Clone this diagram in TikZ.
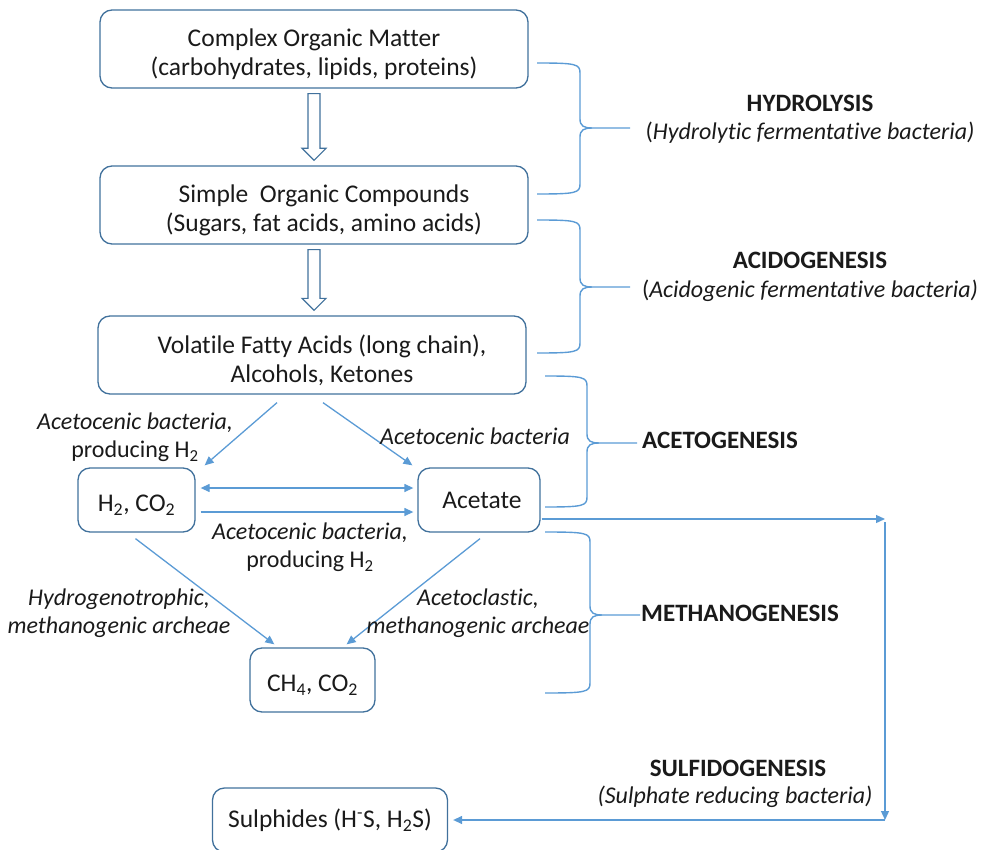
\documentclass[tikz,border=0pt]{standalone}
\usepackage{fontspec}
\setmainfont[Ligatures=NoCommon]{Carlito}
\usetikzlibrary{arrows.meta,calc}
\definecolor{boxline}{HTML}{41719C}
\definecolor{linkblue}{HTML}{5B9BD5}
\definecolor{ink}{HTML}{1A1A1A}

% invisible strut that lowers a box's text block
\newcommand\droptext[1]{\rule{0pt}{#1}}
% pushes a centred line a little to the right
\newcommand\nudge{\hspace*{20pt}}

% hollow block arrow between two stacked boxes
\newcommand\hollowlink[2]{%
  \draw[hollow] let \p1=(#1.south), \p2=(#2.north) in
    (\x1-6pt,\y1-5pt) -- (\x1-6pt,\y2+17pt) -- (\x1-12pt,\y2+17pt) -- (\x1,\y2+5pt)
    -- (\x1+12pt,\y2+17pt) -- (\x1+6pt,\y2+17pt) -- (\x1+6pt,\y1-5pt) -- cycle;}

% curly brace: left x, spine x, tip x, top y, middle y, bottom y
\newcommand\stagebrace[6]{%
  \draw[bracepath] (#1,#4) .. controls ({#2-4},#4) and (#2,{#4+1}) .. (#2,{#4+10})
    -- (#2,{#5-9}) .. controls (#2,{#5-2}) and ({#2+4},#5) .. ({#2+12},#5) -- (#3,#5);
  \draw[bracepath] ({#2+12},#5) .. controls ({#2+4},#5) and (#2,{#5+2}) .. (#2,{#5+9})
    -- (#2,{#6-10}) .. controls (#2,{#6-1}) and ({#2-4},#6) .. (#1,#6);}

\begin{document}
\begin{tikzpicture}[x=1pt,y=-1pt,
  every node/.style={text=ink, font=\fontsize{25.5}{29}\selectfont},
  stagebox/.style={draw=boxline, line width=1.3pt, rounded corners=12pt, align=center, inner sep=0pt},
  conn/.style={draw=linkblue, line width=1.3pt, -{Triangle[length=9pt,width=8pt]}},
  biconn/.style={draw=linkblue, line width=1.3pt, {Triangle[length=9pt,width=8pt]}-{Triangle[length=9pt,width=8pt]}},
  bracepath/.style={draw=linkblue, line width=1.4pt},
  tag/.style={align=center, inner sep=0pt, font=\fontsize{24}{28}\selectfont},
  itag/.style={tag, font=\fontsize{24}{28}\selectfont\itshape},
  phase/.style={inner sep=0pt, font=\fontsize{25}{29}\selectfont\bfseries},
  hollow/.style={draw=boxline, line width=1.2pt, fill=white},
]
\useasboundingbox (0,0) rectangle (990,850);

% main chain of boxes
\node[stagebox, minimum width=428pt, minimum height=78pt] (b1) at (314,49)
  {\droptext{29pt}Complex Organic Matter\\(carbohydrates, lipids, proteins)};
\node[stagebox, minimum width=428pt, minimum height=78pt] (b2) at (314,205)
  {\droptext{29pt}\nudge Simple\ \ Organic Compounds\\\nudge(Sugars, fat acids, amino acids)};
\node[stagebox, minimum width=428pt, minimum height=78pt] (b3) at (312,355)
  {\droptext{29pt}\nudge Volatile Fatty Acids (long chain),\\\nudge Alcohols, Ketones};
\node[stagebox, minimum width=117pt, minimum height=64pt] (h2) at (136.5,500)
  {\droptext{27pt}H\textsubscript{2}, CO\textsubscript{2}};
\node[stagebox, minimum width=122pt, minimum height=64pt] (ac) at (479,500) {\ Acetate};
\node[stagebox, minimum width=125pt, minimum height=64pt] (ch4) at (312.5,680)
  {\droptext{27pt}CH\textsubscript{4}, CO\textsubscript{2}};
\node[stagebox, minimum width=235pt, minimum height=64pt] (sul) at (330,820)
  {Sulphides (H\textsuperscript{-}S, H\textsubscript{2}S)};

% block arrows
\hollowlink{b1}{b2}
\hollowlink{b2}{b3}

% connectors
\draw[conn] ($(b3.south)+(-35,8)$) -- ($(h2.north east)+(9,-2)$);
\draw[conn] ($(b3.south)+(11,8)$) -- ($(ac.north west)+(-5,-2)$);
\draw[biconn] ($(h2.east)+(5,-12)$) -- ($(ac.west)+(-4,-12)$);
\draw[conn] ($(h2.east)+(5,12)$) -- ($(ac.west)+(-4,12)$);
\draw[conn] ($(h2.south)+(-1,6)$) -- ($(ch4.north west)+(25,-3)$);
\draw[conn] ($(ac.south)+(1,6)$) -- ($(ch4.north east)+(-29,-3)$);

\coordinate (turn1) at (885,519);
\coordinate (turn2) at (885,820);
\draw[conn] ($(ac.east)+(1,19)$) -- (turn1);
\draw[conn] ($(turn1)+(0,3)$) -- (turn2);
\draw[conn] (turn2) -- ($(sul.east)+(5,0)$);

% connector labels
\node[tag] (l1) at (135,437) {\textit{Acetocenic bacteria,}\\producing H\textsubscript{2}};
\node[itag] (l2) at (475,436) {Acetocenic bacteria};
\node[tag] (l3) at (310,547) {\textit{Acetocenic bacteria,}\\producing H\textsubscript{2}};
\node[itag] (l4) at (119,613) {Hydrogenotrophic,\\methanogenic archeae};
\node[itag] (l5) at (478,613) {Acetoclastic,\\methanogenic archeae};

% stage braces
\stagebrace{537}{580}{630}{63}{128}{194}
\stagebrace{537}{580}{630}{220}{287}{353}
\stagebrace{545}{587}{637}{376}{443}{507}
\stagebrace{545}{590}{640}{532}{615}{693}

% stage names
\node[phase] (p1) at (810,103) {HYDROLYSIS};
\node[tag] (p1b) at (810,133) {(\textit{Hydrolytic fermentative bacteria)}};
\node[phase] (p2) at (810,260) {ACIDOGENESIS};
\node[tag] (p2b) at (810,291) {(\textit{Acidogenic fermentative bacteria)}};
\node[phase, anchor=west] (p3) at (642,440) {ACETOGENESIS};
\node[phase, anchor=west] (p4) at (641,613) {METHANOGENESIS};
\node[phase] (p5) at (738,768) {SULFIDOGENESIS};
\node[itag] (p5b) at (735,797) {(Sulphate reducing bacteria)};
\end{tikzpicture}
\end{document}
